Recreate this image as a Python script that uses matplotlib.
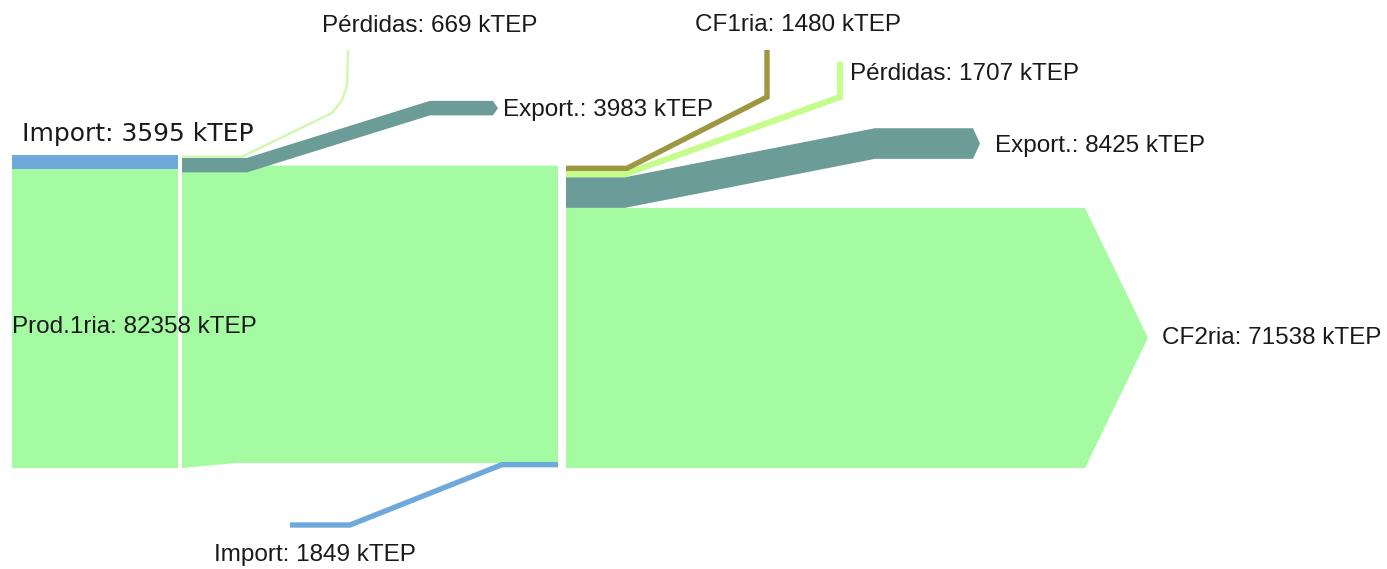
import matplotlib; matplotlib.use("Agg")
import matplotlib.pyplot as plt
from matplotlib.patches import Polygon
from matplotlib.lines import Line2D

# flows in kTEP
prod = 82358
imp1 = 3595
loss1 = 669
exp1 = 3983
imp2 = 1849
cf1 = 1480
loss2 = 1707
exp2 = 8425
cf2 = prod + imp1 - loss1 - exp1 + imp2 - cf1 - loss2 - exp2   # 71538

GREEN = "#a4fba2"; BLUE = "#6fa9dc"; TEAL = "#6b9c98"; OLIVE = "#9e9640"
LIGHT1 = "#d2f7b4"; LIGHT2 = "#c6fc8c"; TXT = "#1a1a1a"
FONT = ["Liberation Sans", "DejaVu Sans"]

U = 275.0                       # kTEP per pixel (vertical scale)
BASE = 468                      # pixel row of the bottom of the main stream
def row(p):                     # layout helper: pixel row -> data y
    return (BASE - p) * U

fig = plt.figure(figsize=(13.87, 5.69), dpi=100)
ax = fig.add_axes([0, 0, 1, 1]); ax.axis("off")
ax.set_xlim(0, 1387); ax.set_ylim(row(569), row(0))

def lw_of(v):
    a = ax.transData.transform((0, 0)); b = ax.transData.transform((0, v))
    return (b[1] - a[1]) * 72 / fig.dpi

def band(xs, lows, v, color, tip=0):
    # band of vertical thickness v following lower edge points
    top = [(x, y + v) for x, y in zip(xs, lows)]
    bot = [(x, y) for x, y in zip(xs, lows)][::-1]
    pts = top + ([(xs[-1] + tip, lows[-1] + v / 2)] if tip else []) + bot
    ax.add_patch(Polygon(pts, closed=True, color=color, lw=0))

def thin(xs, ys, v, color):
    ax.add_line(Line2D(xs, ys, lw=lw_of(v), color=color, solid_joinstyle="miter",
                       solid_capstyle="butt"))

# ---- stage 1
total1 = prod + imp1
ax.add_patch(Polygon([(12, 0), (178, 0), (178, prod), (12, prod)], color=GREEN, lw=0))
ax.add_patch(Polygon([(12, prod), (178, prod), (178, total1), (12, total1)], color=BLUE, lw=0))

# ---- stage 2
total2 = total1 - loss1 - exp1 + imp2
ax.add_patch(Polygon([(182, 0), (237, imp2 * 0.75), (558, imp2 * 0.75), (558, total2), (182, total2)],
                     color=GREEN, lw=0))
# export 3983
e1_low = total1 - loss1 - exp1
band([182, 247, 430, 493], [e1_low, e1_low, e1_low + 57 * U, e1_low + 57 * U], exp1, TEAL, tip=5)
# losses 669
c = total1 - loss1 / 2
thin([182, 242, 332, 342, 347, 348], [c, c, row(113), row(100), row(85), row(50)], loss1, LIGHT1)
# import 1849 at the bottom
c = imp2 / 2
thin([558, 502, 350, 290], [c, c, row(525), row(525)], imp2 * 0.8, BLUE)

# ---- stage 3
ax.add_patch(Polygon([(566, 0), (1085, 0), (1148, cf2 / 2), (1085, cf2), (566, cf2)],
                     color=GREEN, lw=0))
band([566, 625, 875, 973], [cf2, cf2, cf2 + 49 * U, cf2 + 49 * U], exp2, TEAL, tip=7)
c = cf2 + exp2 + loss2 / 2
thin([566, 625, 840, 840], [c, c, row(97), row(62)], loss2, LIGHT2)
c = cf2 + exp2 + loss2 + cf1 / 2
thin([566, 627, 767, 767], [c, c, row(97), row(50)], cf1, OLIVE)

# ---- labels
kw = dict(fontsize=17.5, color=TXT, family=FONT)
ax.text(22, row(134), f"Import: {imp1} kTEP", ha="left", va="center",
        fontsize=18, color=TXT, family=["DejaVu Sans"])
ax.text(12, prod / 2 - 9 * U, f"Prod.1ria: {prod} kTEP", ha="left", va="center", **kw)
ax.text(430, row(26), f"Pérdidas: {loss1} kTEP", ha="center", va="center", **kw)
ax.text(503, row(110), f"Export.: {exp1} kTEP", ha="left", va="center", **kw)
ax.text(315, row(555), f"Import: {imp2} kTEP", ha="center", va="center", **kw)
ax.text(798, row(25), f"CF1ria: {cf1} kTEP", ha="center", va="center", **kw)
ax.text(850, row(74), f"Pérdidas: {loss2} kTEP", ha="left", va="center", **kw)
ax.text(995, row(146), f"Export.: {exp2} kTEP", ha="left", va="center", **kw)
ax.text(1162, cf2 / 2, f"CF2ria: {cf2} kTEP", ha="left", va="center", **kw)

fig.savefig("out.png", dpi=100, facecolor="white")
